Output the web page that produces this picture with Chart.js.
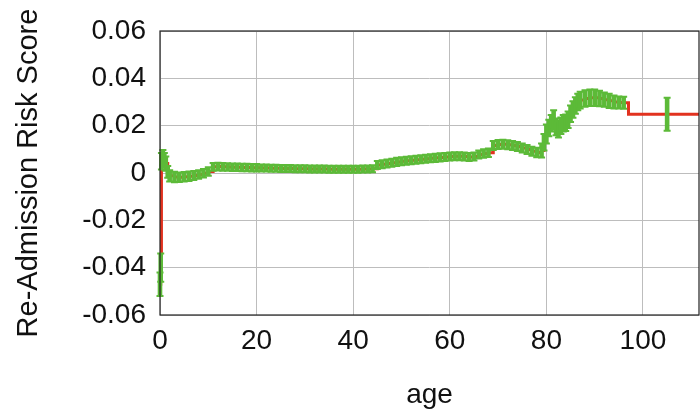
<!DOCTYPE html>
<html>
<head>
<meta charset="utf-8">
<script src="https://cdn.jsdelivr.net/npm/chart.js@4.4.1/dist/chart.umd.min.js"></script>
<style>
  html, body { margin: 0; padding: 0; background: #fff; }
  #wrap { width: 700px; height: 412px; }
</style>
</head>
<body>
<div id="wrap"><canvas id="chart" width="700" height="412"></canvas></div>
<script>
// age values of the estimates
const ages = [
    0, 0.15, 0.3, 0.6, 0.9, 1.2, 1.6,
    2, 3, 4, 5, 6, 7, 8, 9, 10,
    11, 12, 13, 14, 15, 16, 17, 18, 19, 20,
    21, 22, 23, 24, 25, 26, 27, 28, 29, 30,
    31, 32, 33, 34, 35, 36, 37, 38, 39, 40,
    41, 42, 43, 44, 45, 46, 47, 48, 49, 50,
    51, 52, 53, 54, 55, 56, 57, 58, 59, 60,
    61, 62, 63, 64, 65, 66, 67, 68, 69, 70,
    71, 72, 73, 74, 75, 76, 77, 78,
    79, 79.5, 80, 80.5, 81, 81.5, 82, 82.5, 83, 83.5, 84, 84.5, 85, 85.5, 86, 86.5, 87,
    88, 89, 90, 91, 92, 93, 94, 95, 96,
    97, 105, 112
];
// risk score (red step line, centre of green bars)
const scores = [
    -0.047, -0.040, 0.005, 0.0065, 0.0055, 0.004, 0.0005,
    -0.0012, -0.0017, -0.0018, -0.0016, -0.0014, -0.0011, -0.0006, -0.0001, 0.0006,
    0.0026, 0.0027, 0.0026, 0.0025, 0.0024, 0.0024, 0.0023, 0.0023, 0.0022, 0.0022,
    0.0021, 0.0021, 0.0020, 0.0020, 0.0019, 0.0019, 0.0019, 0.0018, 0.0018, 0.0018,
    0.0017, 0.0017, 0.0017, 0.0017, 0.0016, 0.0016, 0.0016, 0.0016, 0.0016, 0.0016,
    0.0016, 0.0017, 0.0017, 0.0018, 0.0034, 0.0037, 0.0040, 0.0043, 0.0047, 0.0050,
    0.0052, 0.0054, 0.0056, 0.0058, 0.0060, 0.0062, 0.0064, 0.0066, 0.0068, 0.0070,
    0.0071, 0.0071, 0.0070, 0.0068, 0.0070, 0.0078, 0.0082, 0.0086, 0.0116, 0.0120,
    0.0121, 0.0119, 0.0116, 0.0112, 0.0106, 0.0099, 0.0092, 0.0087,
    0.0095, 0.0130, 0.0165, 0.0190, 0.0210, 0.0225, 0.0195, 0.0185, 0.0200, 0.0210, 0.0212, 0.0225, 0.0250, 0.0268, 0.0285, 0.0300, 0.0308,
    0.0315, 0.0318, 0.0318, 0.0315, 0.0310, 0.0305, 0.0300, 0.0298, 0.0297,
    0.0248, 0.0248, 0.0248
];
// half height of each error bar (null = no bar)
const errs = [
    0.005, 0.006, 0.0035, 0.0032, 0.003, 0.003, 0.0025,
    0.0024, 0.0022, 0.002, 0.002, 0.002, 0.0019, 0.0018, 0.0018, 0.0018,
    0.0016, 0.0016, 0.0016, 0.0016, 0.0016, 0.0016, 0.0016, 0.0016, 0.0016, 0.0016,
    0.0015, 0.0015, 0.0015, 0.0015, 0.0015, 0.0015, 0.0015, 0.0015, 0.0015, 0.0015,
    0.0015, 0.0015, 0.0015, 0.0015, 0.0015, 0.0015, 0.0015, 0.0015, 0.0015, 0.0015,
    0.0015, 0.0015, 0.0015, 0.0015, 0.0017, 0.0017, 0.0017, 0.0017, 0.0017, 0.0017,
    0.0017, 0.0017, 0.0017, 0.0017, 0.0017, 0.0017, 0.0017, 0.0017, 0.0017, 0.0017,
    0.0017, 0.0017, 0.0017, 0.0017, 0.0017, 0.0017, 0.0018, 0.0018, 0.0019, 0.0019,
    0.0019, 0.0019, 0.0019, 0.0019, 0.0019, 0.0019, 0.0019, 0.002,
    0.003, 0.0035, 0.004, 0.0035, 0.0035, 0.004, 0.0035, 0.0035, 0.0035, 0.0035, 0.0035, 0.0035, 0.0035, 0.0035, 0.0035, 0.0035, 0.0035,
    0.0035, 0.0035, 0.0035, 0.0033, 0.003, 0.003, 0.0027, 0.0025, 0.0025,
    null, 0.007, null
];
const xTicks = [0, 20, 40, 60, 80, 100];
const yTicks = [-0.06, -0.04, -0.02, 0, 0.02, 0.04, 0.06];
const yLabels = ["-0.06", "-0.04", "-0.02", "0", "0.02", "0.04", "0.06"];

const font = "'Liberation Sans', Arial, Helvetica, sans-serif";
const red = "#e2321f";
const green = "#5cba38";

// green error bars plus the full plot frame
const errorBars = {
    id: "errorBars",
    afterDatasetsDraw(chart) {
        const { ctx, chartArea, scales } = chart;
        const x = scales.x, y = scales.y;
        ctx.save();
        ctx.beginPath();
        ctx.rect(chartArea.left - 4, chartArea.top, chartArea.width + 4, chartArea.height);
        ctx.clip();
        ctx.strokeStyle = green;
        ages.forEach((a, i) => {
            if (errs[i] == null) return;
            const px = x.getPixelForValue(a);
            const top = y.getPixelForValue(scores[i] + errs[i]);
            const bot = y.getPixelForValue(scores[i] - errs[i]);
            ctx.lineWidth = 4.6;
            ctx.beginPath();
            ctx.moveTo(px, top);
            ctx.lineTo(px, bot);
            ctx.stroke();
            ctx.lineWidth = 2;
            ctx.beginPath();
            ctx.moveTo(px - 3.5, top);
            ctx.lineTo(px + 3.5, top);
            ctx.moveTo(px - 3.5, bot);
            ctx.lineTo(px + 3.5, bot);
            ctx.stroke();
        });
        ctx.restore();

        ctx.save();
        ctx.strokeStyle = "#222";
        ctx.lineWidth = 1.2;
        ctx.strokeRect(chartArea.left, chartArea.top, chartArea.width, chartArea.height);
        ctx.restore();
    },
};

const ctx = document.getElementById("chart").getContext("2d");
new Chart(ctx, {
    type: "line",
    data: {
        datasets: [
            {
                data: ages.map((a, i) => ({ x: a, y: scores[i] })),
                stepped: "before",
                borderColor: red,
                borderWidth: 3,
                pointRadius: 0,
                fill: false,
            },
        ],
    },
    options: {
        responsive: false,
        animation: false,
        events: [],
        layout: { padding: { top: 31, right: 1, left: 0, bottom: 0 } },
        plugins: { legend: { display: false }, tooltip: { enabled: false } },
        scales: {
            x: {
                type: "linear",
                min: 0,
                max: 111.6,
                afterBuildTicks: (s) => { s.ticks = xTicks.map((v) => ({ value: v })); },
                afterFit: (s) => { s.height = 97; },
                grid: { color: "#bdbdbd", lineWidth: 1, drawTicks: false },
                border: { display: false },
                ticks: { color: "#111", font: { family: font, size: 28 }, padding: 9, maxRotation: 0 },
                title: {
                    display: true,
                    text: "age",
                    color: "#111",
                    font: { family: font, size: 28 },
                    padding: { top: 19, bottom: 0 },
                },
            },
            y: {
                min: -0.06,
                max: 0.06,
                afterBuildTicks: (s) => { s.ticks = yTicks.map((v) => ({ value: v })); },
                afterFit: (s) => { s.width = 160; },
                grid: { color: "#bdbdbd", lineWidth: 1, drawTicks: false },
                border: { display: false },
                ticks: {
                    color: "#111",
                    font: { family: font, size: 28 },
                    padding: 14,
                    callback: (v, i) => yLabels[i],
                },
                title: {
                    display: true,
                    text: "Re-Admission Risk Score",
                    color: "#111",
                    font: { family: font, size: 29 },
                    padding: { top: 12, bottom: 0 },
                },
            },
        },
    },
    plugins: [errorBars],
});
</script>
</body>
</html>
